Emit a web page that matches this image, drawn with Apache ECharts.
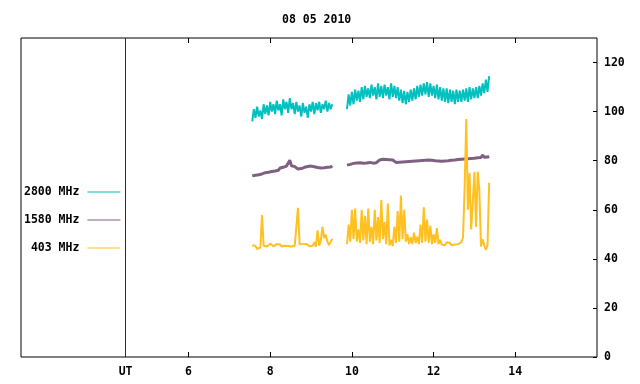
<!DOCTYPE html>
<html>
<head>
<meta charset="utf-8">
<script src="https://cdn.jsdelivr.net/npm/echarts@6/dist/echarts.min.js"></script>
<style>
  html, body { margin: 0; padding: 0; background: #fff; }
  #main { width: 640px; height: 384px; }
</style>
</head>
<body>
<div id="main"></div>
<script>
// radio flux, 08 05 2010, two observing runs (hours UT)
const title = '08 05 2010';
const seriesNames = ['2800 MHz', '1580 MHz', '403 MHz'];
const seriesColors = ['#00c0c0', '#806080', '#ffc020'];
const run1Start = 7.56;
const run2Start = 9.88;
const sampleStep = 0.04;
const utMark = 4.46;
const xTicks = [6, 8, 10, 12, 14];
const yTicks = [0, 20, 40, 60, 80, 100, 120];

const f2800run1 = [96, 101, 97.5, 102, 98, 100.5, 97, 103, 99, 102.5, 98.5, 104, 100, 103, 99, 104.5, 100.5, 103, 98.5, 105,
  101, 104, 99.5, 105.5, 101, 103.5, 99, 104, 100, 102.5, 98, 103.5, 99.5, 102, 97.5, 103, 100, 104, 99, 103.5,
  100.5, 104, 99.5, 103, 101, 104.5, 100, 103.5, 101, 103];
const f2800run2 = [101, 107, 102.5, 108, 103, 109, 104.5, 108.5, 104, 110,
  105, 110.5, 106, 109.5, 105.5, 111, 106.5, 110, 105, 111.5,
  106, 110.5, 105.5, 111, 106.5, 110, 105, 111.5, 106, 110.5,
  105.5, 110, 104.5, 109, 103.5, 108.5, 103, 108, 104, 109,
  104.5, 109.5, 105, 110.5, 106, 111, 106.5, 111.5, 107, 112,
  106, 111.5, 106.5, 110.5, 105.5, 111, 105, 110, 104.5, 109.5,
  104, 109.5, 103.5, 109, 104, 108.5, 103, 109, 104, 108.5,
  104, 109, 104.5, 109.5, 104, 110, 105, 109.5, 105.5, 110,
  105.5, 110.5, 106.5, 111.5, 107.5, 113, 108, 114.5];

const f1580run1 = [73.8, 74.6, 74.1, 74.9, 74.3, 75.0, 74.6, 75.4, 75.1, 75.8,
  75.3, 76.1, 75.6, 76.3, 75.8, 76.6, 76.1, 77.0, 76.5, 77.3,
  76.9, 77.8, 77.4, 80.2, 77.9, 78.4, 77.6, 77.2, 76.6, 77.0,
  76.8, 77.6, 77.3, 78.1, 77.6, 78.3, 77.8, 78.2, 77.5, 78.0,
  77.2, 77.9, 77.0, 77.7, 77.1, 77.8, 77.3, 78.0, 77.4, 77.9];
const f1580run2 = [78.2, 79.0, 78.5, 79.2, 78.9, 79.5, 79.1, 79.7, 79.2, 79.6,
  79.0, 79.6, 79.1, 79.8, 79.3, 79.7, 79.0, 79.5, 79.2, 79.6,
  80.3, 81.0, 80.6, 81.1, 80.5, 80.9, 80.4, 80.8, 80.3, 80.6,
  79.3, 78.8, 79.4, 78.9, 79.5, 79.0, 79.6, 79.1, 79.7, 79.2,
  79.8, 79.3, 79.9, 79.4, 80.0, 79.5, 80.1, 79.6, 80.2, 79.7,
  80.3, 79.8, 80.2, 79.6, 80.0, 79.4, 79.9, 79.3, 79.8, 79.4,
  79.9, 80.4, 80.0, 80.6, 80.2, 80.8, 80.3, 80.9, 80.5, 81.0,
  80.6, 81.1, 80.7, 81.2, 80.8, 81.4, 80.9, 81.5, 81.0, 81.6,
  81.2, 81.7, 81.3, 82.3, 81.4, 81.9, 81.5, 81.8];

const f403run1 = [45.5, 46.3, 45.2, 44.0, 43.8, 44.6, 57.8, 45.3, 45.6, 45.0,
  45.8, 46.2, 45.7, 45.1, 45.4, 46.0, 46.6, 45.9, 45.0, 44.7,
  45.3, 45.8, 45.2, 45.5, 45.0, 45.1, 45.3, 45.4, 60.8, 45.9,
  46.4, 46.0, 45.5, 46.1, 45.6, 45.2, 45.9, 45.3, 46.8, 45.0,
  51.6, 45.4, 47.5, 53.0, 48.5, 49.8, 47.0, 45.6, 45.3, 48.2];
const f403run2 = [46, 54, 47, 60, 48, 60.5, 47, 52, 46.5, 60,
  47.5, 57.5, 46, 60.5, 47, 53, 46, 60, 47.5, 57,
  46.5, 64, 48, 55, 46, 62.5, 45.5, 47.8, 45.2, 53,
  46.5, 59.5, 47, 65.8, 48, 60, 47, 50, 46, 48.8,
  46, 50.7, 46.5, 49, 46, 54, 46.5, 61, 47, 56,
  46.5, 53.5, 46, 50, 46.5, 52.5, 46, 47.7, 45.8, 46.4,
  45.5, 46.8, 46, 46.5, 45.5, 46.2, 45.8, 46.6, 46, 46.3,
  46.8, 48.6, 69, 97, 60, 75, 52, 63, 75.5, 53,
  75.6, 68, 45, 48, 45.5, 43.7, 45.5, 71];

const lineWidths = [2, 3, 2];

self.buildRun = function(start, values) {
    let out = [];
    values.forEach((v, i) => {
        out.push([+(start + i * sampleStep).toFixed(2), v]);
    });
    return out;
};

self.joinRuns = function(a, b) {
    // gap between the two runs
    let gap = [(run1Start + (a.length - 1) * sampleStep + run2Start) / 2, '-'];
    return self.buildRun(run1Start, a).concat([gap], self.buildRun(run2Start, b));
};

let runs = [
    self.joinRuns(f2800run1, f2800run2),
    self.joinRuns(f1580run1, f1580run2),
    self.joinRuns(f403run1, f403run2)
];

const font = { fontFamily: 'DejaVu Sans Mono', fontSize: 11.5, fontWeight: 'bold', color: '#000' };

let series = seriesNames.map((name, i) => {
    let s = {
        name: name,
        type: 'line',
        data: runs[i],
        symbol: 'none',
        connectNulls: false,
        lineStyle: { width: lineWidths[i], color: seriesColors[i] },
        itemStyle: { color: seriesColors[i] },
        z: 2 + i
    };
    if (i === 0) {
        s.markLine = {
            silent: true,
            symbol: ['none', 'none'],
            label: { show: false },
            lineStyle: { color: '#8b0000', width: 1, type: 'solid' },
            data: [{ xAxis: utMark }]
        };
    }
    return s;
});

let chart = echarts.init(document.getElementById('main'), null, { renderer: 'canvas' });
chart.setOption({
    animation: false,
    backgroundColor: '#fff',
    title: {
        text: title,
        left: 277,
        top: 9,
        textStyle: font
    },
    legend: {
        orient: 'vertical',
        left: 19,
        top: 181,
        align: 'right',
        icon: 'rect',
        itemWidth: 33,
        itemHeight: 1,
        itemGap: 16,
        formatter: (name) => name.padStart(8, ' '),
        textStyle: Object.assign({}, font, { padding: [0, 3, 0, 0] }),
        data: seriesNames
    },
    grid: {
        left: 21,
        right: 43,
        top: 38,
        bottom: 27,
        show: true,
        borderColor: '#000',
        borderWidth: 1
    },
    xAxis: [{
        type: 'value',
        min: 1.9,
        max: 16,
        axisLine: { show: false },
        splitLine: { show: false },
        axisTick: { inside: true, length: 5, lineStyle: { color: '#000' }, customValues: xTicks },
        axisLabel: Object.assign({
            customValues: [utMark].concat(xTicks),
            formatter: (v) => v < 5 ? 'UT' : String(v),
            margin: 9
        }, font)
    }, {
        type: 'value',
        position: 'top',
        min: 1.9,
        max: 16,
        axisLine: { show: false },
        splitLine: { show: false },
        axisTick: { inside: true, length: 5, lineStyle: { color: '#000' }, customValues: xTicks },
        axisLabel: { show: false }
    }],
    yAxis: {
        type: 'value',
        position: 'right',
        min: 0,
        max: 130,
        axisLine: { show: false },
        splitLine: { show: false },
        axisTick: { inside: true, length: 4, lineStyle: { color: '#000' }, customValues: yTicks },
        axisLabel: Object.assign({ customValues: yTicks, margin: 7 }, font)
    },
    series: series
});
</script>
</body>
</html>
